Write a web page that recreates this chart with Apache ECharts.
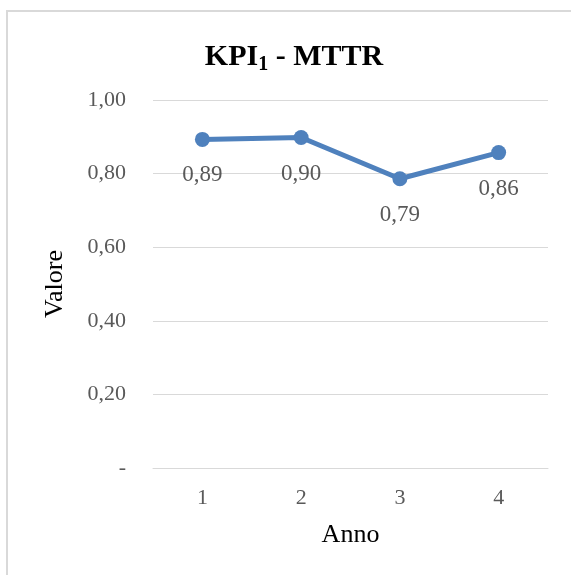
<!DOCTYPE html>
<html><head><meta charset="utf-8">
<script src="https://cdn.jsdelivr.net/npm/echarts@6/dist/echarts.min.js"></script>
<style>html,body{margin:0;padding:0;background:#fff}#c{width:571px;height:575px}</style>
</head><body><div id="c"></div>
<script>
const categories = ['1','2','3','4'];
const values = [0.893, 0.898, 0.786, 0.857];
const yTicks = [0, 0.2, 0.4, 0.6, 0.8, 1.0];
const fmt = v => v === 0 ? '-' : v.toFixed(2).replace('.', ',');
const font = '"Liberation Serif", "Times New Roman", serif';
const chart = echarts.init(document.getElementById('c'), null, {renderer:'canvas'});
chart.setOption({
  animation:false,
  backgroundColor:'#fff',
  graphic:[{type:'rect', shape:{x:7, y:11, width:600, height:600}, style:{fill:'none', stroke:'#d9d9d9', lineWidth:2}, z:-1}],
  title:{
    text:'{a|KPI}{b|1}{a| - MTTR}', left:289, textAlign:'center', top:34,
    textStyle:{rich:{
      a:{fontFamily:font, fontWeight:'bold', fontSize:30, color:'#000', lineHeight:34},
      b:{fontFamily:font, fontWeight:'bold', fontSize:20, color:'#000', lineHeight:36, verticalAlign:'bottom'}
    }}
  },
  grid:{left:153, right:23, top:100, bottom:107},
  xAxis:{
    type:'category', data:categories, boundaryGap:true,
    axisLine:{show:true, lineStyle:{color:'#d9d9d9', width:1}},
    axisTick:{show:false},
    axisLabel:{color:'#595959', fontFamily:font, fontSize:22, margin:19},
    name:'Anno', nameLocation:'middle', nameGap:54,
    nameTextStyle:{color:'#000', fontFamily:font, fontSize:26}
  },
  yAxis:{
    type:'value', min:yTicks[0], max:yTicks[yTicks.length-1], interval:0.2,
    axisLine:{show:false}, axisTick:{show:false},
    splitLine:{lineStyle:{color:'#d9d9d9', width:1}},
    axisLabel:{color:'#595959', fontFamily:font, fontSize:22, margin:27, formatter:fmt},
    name:'Valore', nameLocation:'middle', nameGap:85, nameRotate:90,
    nameTextStyle:{color:'#000', fontFamily:font, fontSize:26}
  },
  series:[{
    type:'line', data:values,
    lineStyle:{color:'#4f81bd', width:5},
    itemStyle:{color:'#4f81bd'},
    symbol:'circle', symbolSize:15,
    label:{show:true, position:'bottom', distance:17, color:'#595959', fontFamily:font, fontSize:23,
      formatter:p => p.value.toFixed(2).replace('.', ',')}
  }]
});
</script></body></html>
